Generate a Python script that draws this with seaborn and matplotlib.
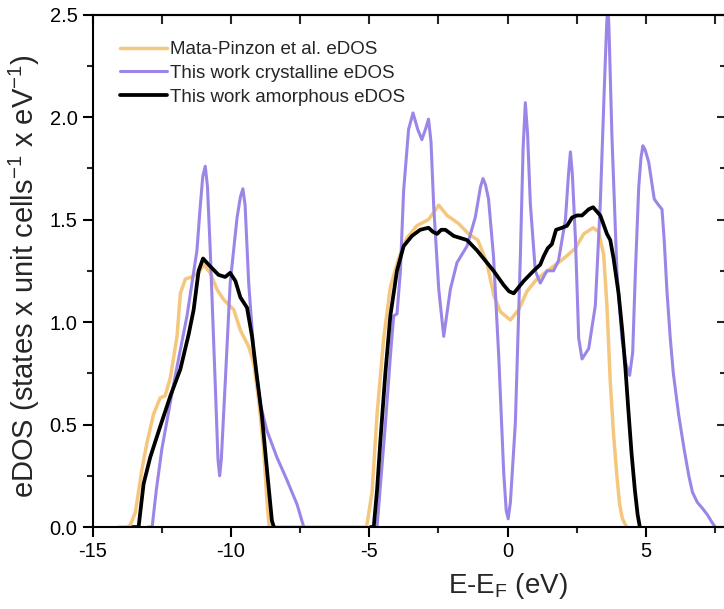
#!/usr/bin/env python3
"""
eDOS comparison: Mata-Pinzon et al. vs this work (crystalline / amorphous).
"""

import matplotlib
matplotlib.use("Agg")
import matplotlib.pyplot as plt
import pandas as pd
import seaborn as sns
from matplotlib.ticker import MultipleLocator, FormatStrFormatter

# Mata-Pinzon et al. eDOS (single continuous trace)
mata_e = [-14.05, -13.75, -13.64, -13.46, -13.22, -13.04, -12.80, -12.56, -12.38, -12.19,
          -11.95, -11.83, -11.65, -11.41, -11.17, -10.99, -10.75, -10.51, -10.27, -9.90,
          -9.66, -9.36, -9.18, -9.00, -8.82, -8.70, -8.62, -5.10, -4.90, -4.72,
          -4.48, -4.24, -3.94, -3.64, -3.28, -2.86, -2.49, -2.19, -1.77, -1.41,
          -1.08, -0.75, -0.50, -0.26, 0.10, 0.40, 0.70, 1.06, 1.54, 2.03,
          2.45, 2.75, 3.09, 3.29, 3.47, 3.59, 3.71, 3.83, 3.95, 4.05,
          4.15, 4.30]
mata_d = [0, 0, 0.01, 0.07, 0.28, 0.41, 0.55, 0.63, 0.64, 0.73,
          0.93, 1.14, 1.21, 1.22, 1.24, 1.28, 1.24, 1.16, 1.11, 1.06,
          0.96, 0.88, 0.80, 0.62, 0.38, 0.13, 0, 0, 0.17, 0.55,
          0.92, 1.17, 1.31, 1.41, 1.47, 1.50, 1.57, 1.52, 1.48, 1.43,
          1.40, 1.29, 1.13, 1.05, 1.01, 1.06, 1.15, 1.21, 1.26, 1.31,
          1.36, 1.43, 1.46, 1.44, 1.33, 1.08, 0.71, 0.45, 0.25, 0.11,
          0.04, 0]

# this work, crystalline (two energy windows)
cryst_low_e = [-13.0, -12.85, -12.7, -12.5, -12.07, -11.59, -11.23, -11.12, -11.02, -10.93,
               -10.85, -10.75, -10.57, -10.47, -10.41, -10.35, -10.21, -10.03, -9.78, -9.66,
               -9.57, -9.49, -9.36, -9.18, -8.94, -8.70, -8.34, -7.98, -7.61, -7.37]
cryst_low_d = [0, 0, 0.18, 0.38, 0.70, 1.03, 1.35, 1.55, 1.71, 1.76,
               1.66, 1.35, 0.70, 0.33, 0.25, 0.33, 0.70, 1.19, 1.51, 1.61,
               1.65, 1.57, 1.19, 0.86, 0.60, 0.47, 0.34, 0.23, 0.11, 0]
cryst_high_e = [-4.95, -4.72, -4.42, -4.24, -4.12, -4.00, -3.88, -3.76, -3.58, -3.42,
                -3.25, -3.10, -2.97, -2.86, -2.77, -2.67, -2.49, -2.31, -2.07, -1.83,
                -1.47, -1.17, -0.98, -0.89, -0.80, -0.69, -0.51, -0.32, -0.14, -0.05,
                0.02, 0.10, 0.28, 0.46, 0.56, 0.64, 0.72, 0.82, 1.00, 1.18,
                1.42, 1.66, 1.84, 2.09, 2.20, 2.27, 2.34, 2.45, 2.57, 2.69,
                2.93, 3.17, 3.35, 3.50, 3.58, 3.62, 3.66, 3.77, 3.95, 4.13,
                4.27, 4.41, 4.52, 4.62, 4.74, 4.82, 4.89, 4.97, 5.10, 5.30,
                5.46, 5.58, 5.66, 5.76, 5.88, 5.99, 6.18, 6.38, 6.55, 6.68,
                6.86, 7.05, 7.22, 7.40, 7.51]
cryst_high_d = [0, 0, 0.50, 0.83, 1.03, 1.04, 1.24, 1.64, 1.94, 2.02,
                1.94, 1.89, 1.94, 1.99, 1.88, 1.56, 1.16, 0.93, 1.16, 1.29,
                1.37, 1.51, 1.66, 1.70, 1.67, 1.60, 1.32, 0.83, 0.26, 0.08,
                0.04, 0.12, 0.51, 1.32, 1.85, 2.07, 1.92, 1.58, 1.25, 1.19,
                1.25, 1.25, 1.30, 1.50, 1.72, 1.83, 1.72, 1.41, 0.92, 0.82,
                0.87, 1.08, 1.58, 2.16, 2.45, 2.55, 2.45, 1.91, 1.25, 0.92,
                0.80, 0.74, 0.85, 1.25, 1.66, 1.80, 1.86, 1.84, 1.78, 1.60,
                1.57, 1.55, 1.40, 1.15, 0.92, 0.75, 0.55, 0.38, 0.25, 0.17,
                0.12, 0.09, 0.06, 0.02, 0]

# this work, amorphous (two energy windows)
amor_low_e = [-13.55, -13.34, -13.16, -12.92, -12.56, -12.19, -11.83, -11.53, -11.35, -11.17,
              -11.01, -10.81, -10.45, -10.21, -10.03, -9.84, -9.66, -9.42, -9.24, -9.06,
              -8.88, -8.70, -8.52, -8.45]
amor_low_d = [0, 0, 0.21, 0.34, 0.49, 0.64, 0.77, 0.94, 1.06, 1.25,
              1.31, 1.28, 1.23, 1.22, 1.24, 1.20, 1.12, 1.07, 0.93, 0.73,
              0.54, 0.28, 0.03, 0]
amor_high_e = [-4.95, -4.84, -4.72, -4.60, -4.42, -4.24, -4.00, -3.76, -3.46, -3.16,
               -2.86, -2.70, -2.55, -2.40, -2.25, -1.95, -1.47, -1.11, -0.81, -0.51,
               -0.14, 0.05, 0.22, 0.40, 0.58, 0.94, 1.18, 1.30, 1.45, 1.60,
               1.75, 1.97, 2.15, 2.33, 2.51, 2.69, 2.93, 3.09, 3.35, 3.59,
               3.71, 3.83, 4.01, 4.15, 4.26, 4.37, 4.48, 4.60, 4.70, 4.78]
amor_high_d = [0, 0, 0.18, 0.42, 0.75, 1.03, 1.25, 1.37, 1.42, 1.45,
               1.46, 1.44, 1.43, 1.45, 1.45, 1.42, 1.40, 1.35, 1.30, 1.25,
               1.18, 1.15, 1.14, 1.17, 1.20, 1.25, 1.28, 1.32, 1.36, 1.38,
               1.45, 1.46, 1.47, 1.51, 1.52, 1.52, 1.55, 1.56, 1.52, 1.43,
               1.40, 1.31, 1.14, 0.95, 0.77, 0.56, 0.36, 0.18, 0.06, 0]

labels = ["Mata-Pinzon et al. eDOS", "This work crystalline eDOS", "This work amorphous eDOS"]
colors = ["#F5C77E", "#9B86E8", "#000000"]
widths = [2.5, 2.2, 2.7]


def to_frame(name: str, segments: list) -> pd.DataFrame:
    parts = []
    for i, (e, d) in enumerate(segments):
        parts.append(pd.DataFrame({"E": e, "D": d, "series": name, "segment": i}))
    return pd.concat(parts, ignore_index=True)


sns.set_theme(style="ticks")
plt.rcParams["font.family"] = ["Liberation Sans", "DejaVu Sans"]
plt.rcParams["mathtext.fontset"] = "custom"
plt.rcParams["mathtext.rm"] = "Liberation Sans"
plt.rcParams["axes.unicode_minus"] = False

fig = plt.figure(figsize=(7.24, 6.09), dpi=100)
ax = fig.add_axes([0.128, 0.1346, 0.8727, 0.8415])

series = [
    to_frame(labels[0], [(mata_e, mata_d)]),
    to_frame(labels[1], [(cryst_low_e, cryst_low_d), (cryst_high_e, cryst_high_d)]),
    to_frame(labels[2], [(amor_low_e, amor_low_d), (amor_high_e, amor_high_d)]),
]

handles = []
for df, color, lw in zip(series, colors, widths):
    n_before = len(ax.lines)
    sns.lineplot(data=df, x="E", y="D", units="segment", estimator=None, sort=False,
                 color=color, lw=lw, ax=ax, legend=False)
    handles.append(ax.lines[n_before])

ax.set_xlim(-15, 7.84)
ax.set_ylim(0, 2.5)
ax.xaxis.set_major_locator(MultipleLocator(5))
ax.xaxis.set_minor_locator(MultipleLocator(2.5))
ax.yaxis.set_major_locator(MultipleLocator(0.5))
ax.yaxis.set_minor_locator(MultipleLocator(0.25))
ax.yaxis.set_major_formatter(FormatStrFormatter("%.1f"))

for side in ["top", "right", "bottom", "left"]:
    ax.spines[side].set_linewidth(1.5)
    ax.spines[side].set_color("black")

ax.tick_params(which="major", direction="out", length=7, width=1.5, labelsize=14.5,
               colors="black", pad=4)
ax.tick_params(which="minor", direction="out", length=4, width=1.5)

# inward mirrored ticks on top and right
top = ax.secondary_xaxis("top")
top.xaxis.set_major_locator(MultipleLocator(2.5))
top.tick_params(which="major", direction="in", length=6.5, width=1.5, labeltop=False)
top.spines["top"].set_linewidth(1.5)
right = ax.secondary_yaxis("right")
right.yaxis.set_major_locator(MultipleLocator(0.5))
right.yaxis.set_minor_locator(MultipleLocator(0.25))
right.tick_params(which="major", direction="in", length=6, width=1.5, labelright=False)
right.tick_params(which="minor", direction="in", length=3.5, width=1.5)

ax.set_xlabel(r"E-E$_{\mathregular{F}}$ (eV)", fontsize=20)
ax.xaxis.set_label_coords(0.657, -0.085)
ax.set_ylabel(r"eDOS (states x unit cells$^{\mathregular{-1}}$ x eV$^{\mathregular{-1}}$)",
              fontsize=21)
ax.yaxis.set_label_coords(-0.080, 0.49)

ax.legend(handles=handles, labels=labels, loc="upper left", bbox_to_anchor=(0.043, 0.948),
          frameon=False, fontsize=13.5, handlelength=2.5, handletextpad=0.2,
          labelspacing=0.35, borderpad=0, borderaxespad=0)

fig.savefig("out.png", dpi=100)
